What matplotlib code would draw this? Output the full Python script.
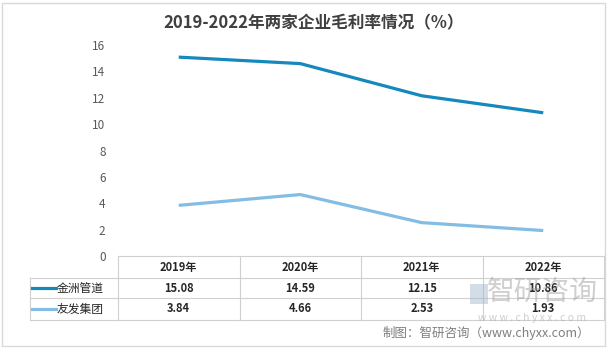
import matplotlib.pyplot as plt
from matplotlib.transforms import blended_transform_factory
from matplotlib.lines import Line2D
from matplotlib.patches import Rectangle

plt.rcParams['font.family'] = ['Noto Sans CJK SC', 'DejaVu Sans']

years = ['2019年', '2020年', '2021年', '2022年']
names = ['金洲管道', '友发集团']
jinzhou = [15.08, 14.59, 12.15, 10.86]
youfa = [3.84, 4.66, 2.53, 1.93]
colors = ['#1589BB', '#83BDE4']

W, H = 608, 348
fig = plt.figure(figsize=(W / 100, H / 100), dpi=100)
fig.patch.set_facecolor('white')
fig.add_artist(Rectangle((2 / W, 2 / H), 1 - 5 / W, 1 - 5 / H, transform=fig.transFigure,
                         fill=False, edgecolor='#d9d9d9', linewidth=1))

left, right, top, bottom = 118, 604, 45, 256
ax = fig.add_axes([left / W, 1 - bottom / H, (right - left) / W, (bottom - top) / H])

x = list(range(len(years)))
series = [jinzhou, youfa]
for vals, c in zip(series, colors):
    ax.plot(x, vals, color=c, linewidth=2.3, solid_capstyle='butt')

ax.set_xlim(-0.5, len(years) - 0.5)
ax.set_ylim(0, 16)
ax.set_yticks(range(0, 17, 2))
ax.set_xticks([])
for s in ax.spines.values():
    s.set_visible(False)
ax.tick_params(axis='y', length=0, pad=9, labelsize=8.5, labelcolor='#595959')

# data table under the axes
ah = bottom - top
aw = right - left
def fy(py):
    return (bottom - py) / ah

row_edges = [fy(256), fy(278), fy(298), fy(320)]
row_mid = [fy(267), fy(288), fy(309)]
lx = (30 - left) / aw
grid = '#d0d0d0'
bt = blended_transform_factory(ax.transData, ax.transAxes)

ax.add_line(Line2D([0, 1], [row_edges[0]] * 2, transform=ax.transAxes, color=grid, lw=0.8, clip_on=False))
for ry in row_edges[1:]:
    ax.add_line(Line2D([lx, 1], [ry] * 2, transform=ax.transAxes, color=grid, lw=0.8, clip_on=False))
for i in range(len(years) + 1):
    ax.add_line(Line2D([i - 0.5] * 2, [row_edges[0], row_edges[3]], transform=bt,
                       color=grid, lw=0.8, clip_on=False))
ax.add_line(Line2D([lx] * 2, [row_edges[1], row_edges[3]], transform=ax.transAxes,
                   color=grid, lw=0.8, clip_on=False))

for i, yr in enumerate(years):
    ax.text(i, row_mid[0], yr, transform=bt, ha='center', va='center',
            fontsize=8, fontweight='bold', color='#262626')
for r, (name, vals, c) in enumerate(zip(names, series, colors)):
    ym = row_mid[r + 1]
    ax.add_line(Line2D([(32 - left) / aw, (56 - left) / aw], [ym, ym], transform=ax.transAxes,
                       color=c, lw=2.3, clip_on=False))
    ax.text((57 - left) / aw, ym, name, transform=ax.transAxes, ha='left', va='center',
            fontsize=8.5, color='#262626')
    for i, v in enumerate(vals):
        ax.text(i, ym, f'{v:.2f}', transform=bt, ha='center', va='center',
                fontsize=8, fontweight='bold', color='#262626', zorder=5)

# title
fig.text(314 / W, 1 - 23 / H, '2019-2022年两家企业毛利率情况（%）', ha='center', va='center',
         fontsize=12, fontweight='bold', color='#404040')

# watermark
fig.add_artist(Rectangle((470 / W, 1 - 304 / H), 18 / W, 20 / H, transform=fig.transFigure,
                         facecolor='#9fb4cc', edgecolor='none', alpha=0.45))
fig.text(542 / W, 1 - 292 / H, '智研咨询', ha='center', va='center', fontsize=20,
         color='#a0a0a0', alpha=0.5)
fig.text(532 / W, 1 - 318 / H, 'w w w . c h y x x . c o m', ha='center', va='center',
         fontsize=7.5, color='#a0a0a0', alpha=0.5)

fig.text(590 / W, 1 - 333 / H, '制图：智研咨询（www.chyxx.com）', ha='right', va='center',
         fontsize=9, color='#7f7f7f')

fig.savefig('out.png', dpi=100)
